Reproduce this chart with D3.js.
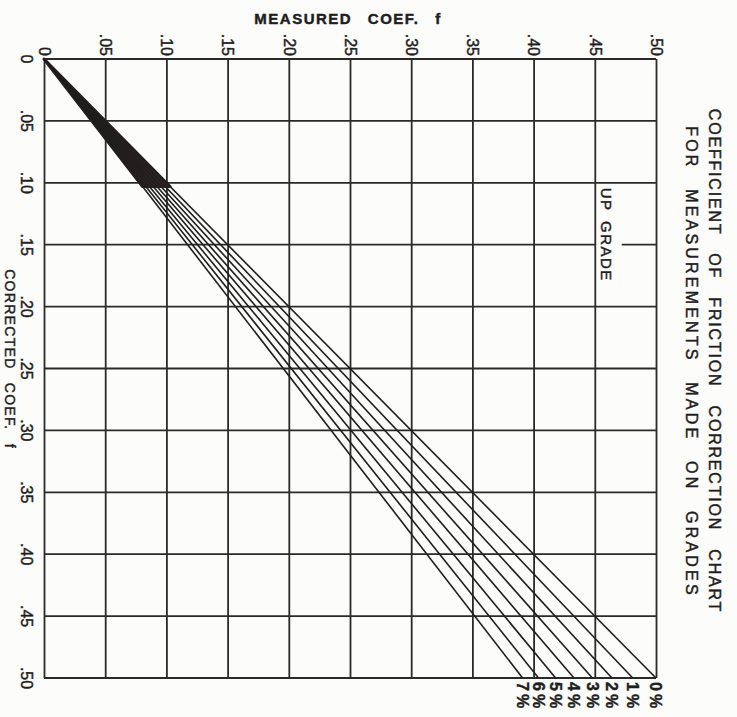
<!DOCTYPE html>
<html>
<head>
    <meta charset="UTF-8">
    <title>friction correction</title>
    <script src="https://d3js.org/d3.v7.min.js"></script>
    <style>
        body { margin: 0; background: #fcfcfa; }
        text { font-family: "Liberation Sans", Arial, sans-serif; fill: #1e1e1e; stroke: #1e1e1e; stroke-width: 0.45px; }
        .grid line, .grid path { stroke: #2a2a2a; stroke-width: 1.8px; }
    </style>
</head>
<body>
<svg id="chart"></svg>
<script>
    // ticks on both axes (measured along the top, corrected down the left)
    var tickValues = [0, .05, .10, .15, .20, .25, .30, .35, .40, .45, .50];
    var tickLabels = ["0", ".05", ".10", ".15", ".20", ".25", ".30", ".35", ".40", ".45", ".50"];

    // grade lines: each runs from the origin to corrected .50 at this measured value
    var grades = ["0%", "1%", "2%", "3%", "4%", "5%", "6%", "7%"];
    var measuredAtEnd = [0.500, 0.481, 0.464, 0.448, 0.433, 0.418, 0.404, 0.391];
    var endCorrected = 0.50;
    var wedgeEnd = 0.103;   // where the lines stop merging into one dark band

    var W = 737, H = 717;
    var bg = "#fcfcfa";
    var svg = d3.select("#chart").attr("width", W).attr("height", H);

    var x = d3.scaleLinear().domain([0, 0.5]).range([44, 656]);
    var y = d3.scaleLinear().domain([0, 0.5]).range([59, 678]);

    // vertical grid + top labels
    var xAxis = svg.append("g").attr("class", "grid")
        .attr("transform", "translate(0," + y(0) + ")")
        .call(d3.axisTop(x).tickValues(tickValues)
            .tickSize(-(y(0.5) - y(0))).tickSizeOuter(0)
            .tickFormat(function (d, i) { return tickLabels[i]; }));
    xAxis.select(".domain").remove();
    xAxis.selectAll("text")
        .attr("transform", "rotate(90)")
        .attr("x", -3).attr("y", 0).attr("dy", "0.35em")
        .attr("text-anchor", "end")
        .style("font-size", "16px");

    // horizontal grid + left labels
    var yAxis = svg.append("g").attr("class", "grid")
        .attr("transform", "translate(" + x(0) + ",0)")
        .call(d3.axisLeft(y).tickValues(tickValues)
            .tickSize(-(x(0.5) - x(0))).tickSizeOuter(0)
            .tickFormat(function (d, i) { return tickLabels[i]; }));
    yAxis.select(".domain").remove();
    yAxis.selectAll(".tick").attr("transform", null);
    yAxis.selectAll(".tick line")
        .attr("y1", function (d) { return y(d); })
        .attr("y2", function (d) { return y(d); });
    yAxis.selectAll(".tick text")
        .attr("x", -17)
        .attr("y", function (d) { return y(d); })
        .attr("dy", "0.35em")
        .attr("text-anchor", "middle")
        .attr("transform", function (d) { return "rotate(90," + (-17) + "," + y(d) + ")"; })
        .style("font-size", "16px");

    // dark band near the origin
    var slope7 = measuredAtEnd[measuredAtEnd.length - 1] / endCorrected;
    var slope0 = measuredAtEnd[0] / endCorrected;
    var band = d3.area()
        .y(function (c) { return y(c); })
        .x0(function (c) { return x(c * slope7); })
        .x1(function (c) { return x(c * slope0); });
    svg.append("path")
        .datum([0, wedgeEnd])
        .attr("d", band)
        .attr("fill", "#2e2321")
        .attr("stroke", "#2e2321")
        .attr("stroke-width", 3)
        .attr("stroke-linejoin", "round");

    // grade lines
    svg.append("g").selectAll("line")
        .data(measuredAtEnd)
        .join("line")
        .attr("x1", x(0)).attr("y1", y(0))
        .attr("x2", function (m) { return x(m); })
        .attr("y2", y(endCorrected))
        .attr("stroke", "#1e1e1e")
        .attr("stroke-width", 1.6);

    // grade labels below the ends
    svg.append("g").selectAll("text")
        .data(grades)
        .join("text")
        .attr("transform", function (g, i) {
            return "translate(" + x(measuredAtEnd[i]) + "," + (y(endCorrected) + 4) + ") rotate(90)";
        })
        .attr("dy", "0.35em")
        .style("font-size", "16px")
        .style("font-weight", "bold")
        .style("letter-spacing", "3px")
        .text(function (g) { return g; });

    // "UP GRADE" note: the .15 grid line is broken where the words cross it
    svg.append("rect")
        .attr("x", x(0.45) + 1.5).attr("width", x(0.472) - x(0.45) - 1.5)
        .attr("y", y(0.15) - 2).attr("height", 4)
        .attr("fill", bg);
    svg.append("text")
        .attr("transform", "translate(" + (x(0.45) + 6) + "," + y(0.104) + ") rotate(90)")
        .style("font-size", "15px")
        .style("letter-spacing", "1.5px")
        .style("word-spacing", "4px")
        .text("UP GRADE");

    // axis titles
    svg.append("text")
        .attr("x", 348).attr("y", 24)
        .attr("text-anchor", "middle")
        .style("font-size", "15px").style("font-weight", "bold")
        .style("letter-spacing", "1.5px").style("word-spacing", "10px")
        .text("MEASURED COEF. f");
    svg.append("text")
        .attr("transform", "translate(5,359) rotate(90)")
        .attr("text-anchor", "middle")
        .style("font-size", "14px")
        .style("letter-spacing", "1.3px").style("word-spacing", "8px")
        .text("CORRECTED COEF. f");

    // chart title, read top to bottom
    svg.append("text")
        .attr("transform", "translate(709,361) rotate(90)")
        .attr("text-anchor", "middle")
        .style("font-size", "16px")
        .style("letter-spacing", "1.8px").style("word-spacing", "12px")
        .text("COEFFICIENT OF FRICTION CORRECTION CHART");
    svg.append("text")
        .attr("transform", "translate(686,362) rotate(90)")
        .attr("text-anchor", "middle")
        .style("font-size", "16px")
        .style("letter-spacing", "3.2px").style("word-spacing", "12px")
        .text("FOR MEASUREMENTS MADE ON GRADES");
</script>
</body>
</html>
